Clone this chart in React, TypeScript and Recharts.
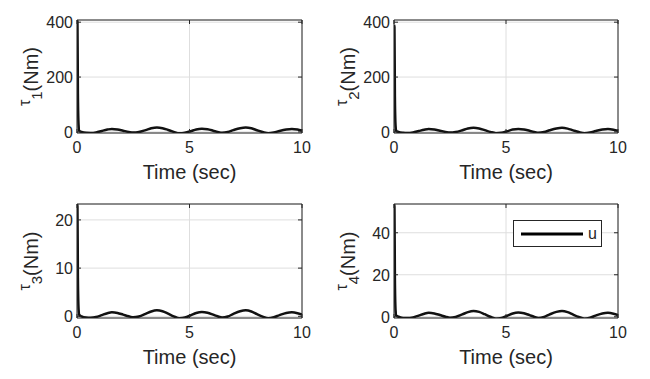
import { LineChart, Line, XAxis, YAxis, CartesianGrid, Legend } from 'recharts';

const INK = '#262626';
const GRID = '#dedede';
const FONT = '"Liberation Sans", Arial, Helvetica, sans-serif';

// sample times (s)
const TIME = [
  0, 0.02, 0.04, 0.07, 0.1, 0.2, 0.4, 0.6, 0.85, 1.1, 1.35, 1.55, 1.8, 2.05, 2.3, 2.5,
  2.75, 3.05, 3.3, 3.55, 3.8, 4.05, 4.3, 4.55, 4.8, 5.05, 5.3, 5.55, 5.8, 6.05,
  6.25, 6.45, 6.7, 6.95, 7.25, 7.5, 7.75, 8.0, 8.25, 8.5, 8.75, 9.0, 9.3, 9.55,
  9.8, 10,
];

const TAU1 = [
  408, 400, 140, 25, 4, 0, -3.5, -4, -2, 3.5, 8.5, 11, 9, 4.5, 0, -2.5,
  -0.5, 6.5, 13, 16, 13.5, 7, 0, -5, -3, 2.5, 9, 11.5, 9.5, 4.5,
  0, -3, -0.5, 6.5, 13.5, 16, 13, 6, -0.5, -5, -2.5, 3.5, 9, 11,
  8.5, 4.5,
];
const TAU2 = [
  390, 382, 130, 22, 3.5, 0, -3, -4, -2, 3, 8, 10.5, 8.5, 4, 0, -2.5,
  -0.5, 6, 12.5, 15, 12.5, 6.5, 0, -4.5, -3, 2.5, 8.5, 11, 9, 4,
  0, -3, -0.5, 6, 12.5, 15, 12, 5.5, -0.5, -4.5, -2.5, 3, 8.5, 10.5,
  8, 4,
];
const TAU3 = [
  23.3, 22.8, 8, 1.5, 0.3, 0, -0.25, -0.3, -0.15, 0.25, 0.65, 0.83, 0.7, 0.35, 0, -0.2,
  -0.05, 0.5, 1.0, 1.24, 1.05, 0.55, 0, -0.4, -0.25, 0.2, 0.7, 0.9, 0.75, 0.35,
  0, -0.25, -0.05, 0.5, 1.05, 1.24, 1.0, 0.45, -0.05, -0.4, -0.2, 0.25, 0.7, 0.83,
  0.65, 0.35,
];
const TAU4 = [
  53.7, 52.5, 18, 3, 0.6, 0, -0.55, -0.65, -0.3, 0.55, 1.45, 1.85, 1.55, 0.8, 0, -0.45,
  -0.1, 1.1, 2.2, 2.75, 2.3, 1.2, 0, -0.9, -0.55, 0.45, 1.55, 2.0, 1.65, 0.75,
  0, -0.55, -0.1, 1.1, 2.3, 2.75, 2.2, 1.0, -0.1, -0.9, -0.45, 0.55, 1.55, 1.85,
  1.45, 0.8,
];

const X_TICKS = [0, 5, 10];
const Y_TICKS_1 = [0, 200, 400];
const Y_TICKS_2 = [0, 200, 400];
const Y_TICKS_3 = [0, 10, 20];
const Y_TICKS_4 = [0, 20, 40];

const TM_X = 9;
const TM_Y = 4;
const TICK_LEN = 4;

function BottomTick({ x, y, payload }: any) {
  return (
    <g>
      <line x1={x} x2={x} y1={y - TM_X} y2={y - TM_X - TICK_LEN} stroke={INK} />
      <text x={x} y={y} dy="0.71em" textAnchor="middle" fill={INK} fontSize={16} fontFamily={FONT}>
        {payload.value}
      </text>
    </g>
  );
}

function LeftTick({ x, y, payload }: any) {
  return (
    <g>
      <line x1={x + TM_Y} x2={x + TM_Y + TICK_LEN} y1={y} y2={y} stroke={INK} />
      <text x={x} y={y} dy="0.36em" textAnchor="end" fill={INK} fontSize={16} fontFamily={FONT}>
        {payload.value}
      </text>
    </g>
  );
}

function TopTick({ x, y }: any) {
  return <line x1={x} x2={x} y1={y} y2={y + TICK_LEN} stroke={INK} />;
}

function RightTick({ x, y }: any) {
  return <line x1={x} x2={x - TICK_LEN} y1={y} y2={y} stroke={INK} />;
}

function xTitle(props: any) {
  const { x, y, width } = props.viewBox;
  return (
    <text x={x + width / 2} y={y + 39} dy="0.36em" textAnchor="middle" fill={INK} fontSize={20} fontFamily={FONT}>
      Time (sec)
    </text>
  );
}

function makeYTitle(sub: string) {
  return (props: any) => {
    const { x, y, width, height } = props.viewBox;
    const cx = x + width - 39;
    const cy = y + height / 2;
    return (
      <text
        x={cx}
        y={cy}
        transform={`rotate(-90 ${cx} ${cy})`}
        textAnchor="middle"
        fill={INK}
        fontSize={20}
        fontFamily={FONT}
      >
        <tspan fontSize={16} dy={-8}>τ</tspan>
        <tspan fontSize={15} dy={12}>{sub}</tspan>
        <tspan dy={-4}>(Nm)</tspan>
      </text>
    );
  };
}

function LegendBox() {
  return (
    <div
      style={{
        width: 89,
        height: 27,
        boxSizing: 'border-box',
        border: `1px solid ${INK}`,
        background: '#fff',
        display: 'flex',
        alignItems: 'center',
        fontFamily: FONT,
        fontSize: 16,
        color: INK,
      }}
    >
      <svg width={74} height={10} style={{ display: 'block' }}>
        <line x1={7} x2={69} y1={5} y2={5} stroke="#000" strokeWidth={3} />
      </svg>
      <span>u</span>
    </div>
  );
}

type PanelProps = {
  values: number[];
  sub: string;
  yDomain: [number, number];
  yTicks: number[];
  left: number;
  top: number;
  margin: { top: number; right: number; bottom: number; left: number };
  legend?: boolean;
};

function Panel({ values, sub, yDomain, yTicks, left, top, margin, legend }: PanelProps) {
  const data = TIME.map((t, i) => ({ t, u: values[i] }));
  // every axis takes 1px of room, so the margins give it back
  const m = {
    top: margin.top - 1,
    right: margin.right - 1,
    bottom: margin.bottom - 1,
    left: margin.left - 1,
  };
  return (
    <div style={{ position: 'absolute', left, top }}>
      <LineChart width={325} height={189} data={data} margin={m}>
        <CartesianGrid stroke={GRID} />
        <XAxis
          dataKey="t"
          type="number"
          domain={[0, 10]}
          ticks={X_TICKS}
          allowDataOverflow
          height={1}
          tickSize={0}
          tickMargin={TM_X}
          tickLine={false}
          tick={BottomTick}
          axisLine={{ stroke: INK }}
          label={{ content: xTitle }}
        />
        <XAxis
          xAxisId="top"
          orientation="top"
          dataKey="t"
          type="number"
          domain={[0, 10]}
          ticks={X_TICKS}
          height={1}
          tickSize={0}
          tickMargin={0}
          tickLine={false}
          tick={TopTick}
          axisLine={{ stroke: INK }}
        />
        <YAxis
          type="number"
          domain={yDomain}
          ticks={yTicks}
          allowDataOverflow
          width={1}
          tickSize={0}
          tickMargin={TM_Y}
          tickLine={false}
          tick={LeftTick}
          axisLine={{ stroke: INK }}
          label={{ content: makeYTitle(sub) }}
        />
        <YAxis
          yAxisId="right"
          orientation="right"
          type="number"
          domain={yDomain}
          ticks={yTicks}
          allowDataOverflow
          width={1}
          tickSize={0}
          tickMargin={0}
          tickLine={false}
          tick={RightTick}
          axisLine={{ stroke: INK }}
        />
        <Line
          dataKey="u"
          name="u"
          type="monotone"
          stroke="#111"
          strokeWidth={2.5}
          dot={false}
          isAnimationActive={false}
        />
        {legend && (
          <Legend
            layout="horizontal"
            verticalAlign="middle"
            align="center"
            wrapperStyle={{ left: 188, top: 31, width: 89, height: 27 }}
            content={() => <LegendBox />}
          />
        )}
      </LineChart>
    </div>
  );
}

export default function App() {
  return (
    <div style={{ position: 'absolute', left: 0, top: 0, width: 650, height: 379, background: '#fff' }}>
      <Panel
        values={TAU1}
        sub="1"
        yDomain={[-4, 408]}
        yTicks={Y_TICKS_1}
        left={0}
        top={0}
        margin={{ top: 20, right: 23, bottom: 56, left: 77 }}
      />
      <Panel
        values={TAU2}
        sub="2"
        yDomain={[-4, 408]}
        yTicks={Y_TICKS_2}
        left={325}
        top={0}
        margin={{ top: 20, right: 32, bottom: 56, left: 69 }}
      />
      <Panel
        values={TAU3}
        sub="3"
        yDomain={[-0.35, 23.3]}
        yTicks={Y_TICKS_3}
        left={0}
        top={189}
        margin={{ top: 15, right: 23, bottom: 60, left: 77 }}
      />
      <Panel
        values={TAU4}
        sub="4"
        yDomain={[-0.6, 53.7]}
        yTicks={Y_TICKS_4}
        left={325}
        top={189}
        margin={{ top: 15, right: 32, bottom: 60, left: 69 }}
        legend
      />
    </div>
  );
}
